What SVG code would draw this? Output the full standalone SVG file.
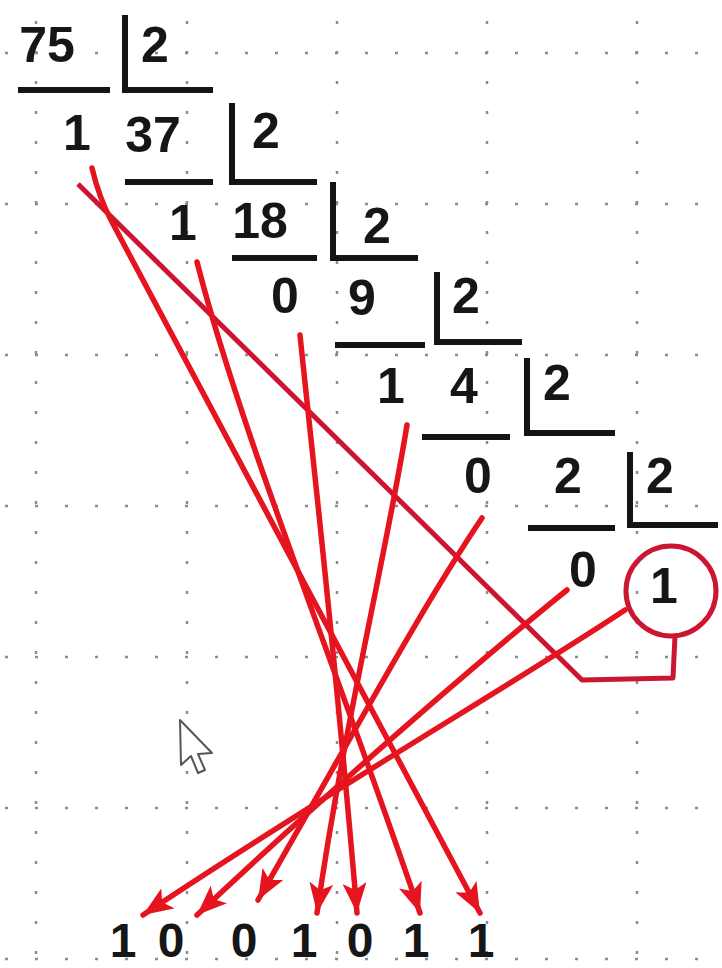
<svg xmlns="http://www.w3.org/2000/svg" width="722" height="968" viewBox="0 0 722 968">
  <defs>
    <style>
      .grid line { stroke: #8c8c8c; stroke-width: 2.5; stroke-dasharray: 3 27; }
      .rule { stroke: #141414; stroke-width: 6; fill: none; stroke-linecap: butt; stroke-linejoin: miter; }
      .num { font-family: "Liberation Sans", Arial, sans-serif; font-weight: bold; font-size: 50px; fill: #161616; text-anchor: middle; }
      .res { font-size: 48px; }
      .arrow { stroke: #e5141f; stroke-width: 5.5; fill: none; stroke-linecap: round; marker-end: url(#head); }
      .ring { stroke: #cc1631; stroke-width: 5; fill: none; stroke-linejoin: round; }
    </style>
    <marker id="head" markerUnits="userSpaceOnUse" markerWidth="32" markerHeight="24" refX="30" refY="12" orient="auto">
      <path d="M0,0 L30,12 L0,24 L7,12 z" fill="#e5141f"/>
    </marker>
  </defs>
  <rect width="722" height="968" fill="#ffffff"/>

  <g class="grid" id="grid">
    <line x1="5" y1="53" x2="722" y2="53"/>
    <line x1="5" y1="204" x2="722" y2="204"/>
    <line x1="5" y1="355" x2="722" y2="355"/>
    <line x1="5" y1="506" x2="722" y2="506"/>
    <line x1="5" y1="657" x2="722" y2="657"/>
    <line x1="5" y1="808" x2="722" y2="808"/>
    <line x1="5" y1="959" x2="722" y2="959"/>
    <line x1="36" y1="21" x2="36" y2="968"/>
    <line x1="187" y1="21" x2="187" y2="968"/>
    <line x1="337" y1="21" x2="337" y2="968"/>
    <line x1="487" y1="21" x2="487" y2="968"/>
    <line x1="637" y1="21" x2="637" y2="968"/>
  </g>

  <g id="step-75">
    <text class="num" x="47" y="62">75</text>
    <path class="rule" d="M18 90 H110"/>
    <path class="rule" d="M125 15 V90 H213"/>
    <text class="num" x="155" y="62">2</text>
  </g>
  <g id="step-37">
    <text class="num" x="77" y="150">1</text>
    <text class="num" x="153" y="152">37</text>
    <path class="rule" d="M125 182 H213"/>
    <path class="rule" d="M232 103 V182 H317"/>
    <text class="num" x="266" y="148">2</text>
  </g>
  <g id="step-18">
    <text class="num" x="183" y="240">1</text>
    <text class="num" x="260" y="238">18</text>
    <path class="rule" d="M232 258 H317"/>
    <path class="rule" d="M333 182 V258 H418"/>
    <text class="num" x="377" y="243">2</text>
  </g>
  <g id="step-9">
    <text class="num" x="285" y="313">0</text>
    <text class="num" x="362" y="315">9</text>
    <path class="rule" d="M335 345 H425"/>
    <path class="rule" d="M437 272 V342 H522"/>
    <text class="num" x="466" y="313">2</text>
  </g>
  <g id="step-4">
    <text class="num" x="391" y="403">1</text>
    <text class="num" x="464" y="403">4</text>
    <path class="rule" d="M422 437 H510"/>
    <path class="rule" d="M527 358 V433 H615"/>
    <text class="num" x="557" y="400">2</text>
  </g>
  <g id="step-2">
    <text class="num" x="478" y="493">0</text>
    <text class="num" x="568" y="493">2</text>
    <path class="rule" d="M528 528 H615"/>
    <path class="rule" d="M630 452 V525 H718"/>
    <text class="num" x="660" y="493">2</text>
  </g>
  <g id="step-1">
    <text class="num" x="583" y="587">0</text>
    <text class="num" x="664" y="603">1</text>
    <circle class="ring" cx="671" cy="591" r="45"/>
  </g>

  <g id="result">
    <text class="num res" x="123" y="957">1</text>
    <text class="num res" x="171" y="957">0</text>
    <text class="num res" x="244" y="957">0</text>
    <text class="num res" x="304" y="957">1</text>
    <text class="num res" x="360" y="957">0</text>
    <text class="num res" x="416" y="957">1</text>
    <text class="num res" x="481" y="957">1</text>
  </g>

  <g id="connectors">
    <path class="ring" d="M675 636 L673 678 L582 680 L78 184"/>
    <path class="arrow" d="M92 168 Q99 198 112 222 L480 913"/>
    <path class="arrow" d="M197 262 C240 430 330 650 420 913"/>
    <path class="arrow" d="M300 335 C315 480 335 650 357 913"/>
    <path class="arrow" d="M407 425 C385 560 345 720 317 913"/>
    <path class="arrow" d="M482 518 C420 610 350 740 258 900"/>
    <path class="arrow" d="M567 590 C480 660 330 790 197 915"/>
    <path class="arrow" d="M625 610 C520 680 330 790 143 915"/>
  </g>

  <g id="cursor">
    <path d="M180 720 L181 765 L191 756 L198 773 L205 770 L198 754 L212 753 Z" fill="#ffffff" stroke="#555555" stroke-width="2" stroke-linejoin="round"/>
  </g>
</svg>
